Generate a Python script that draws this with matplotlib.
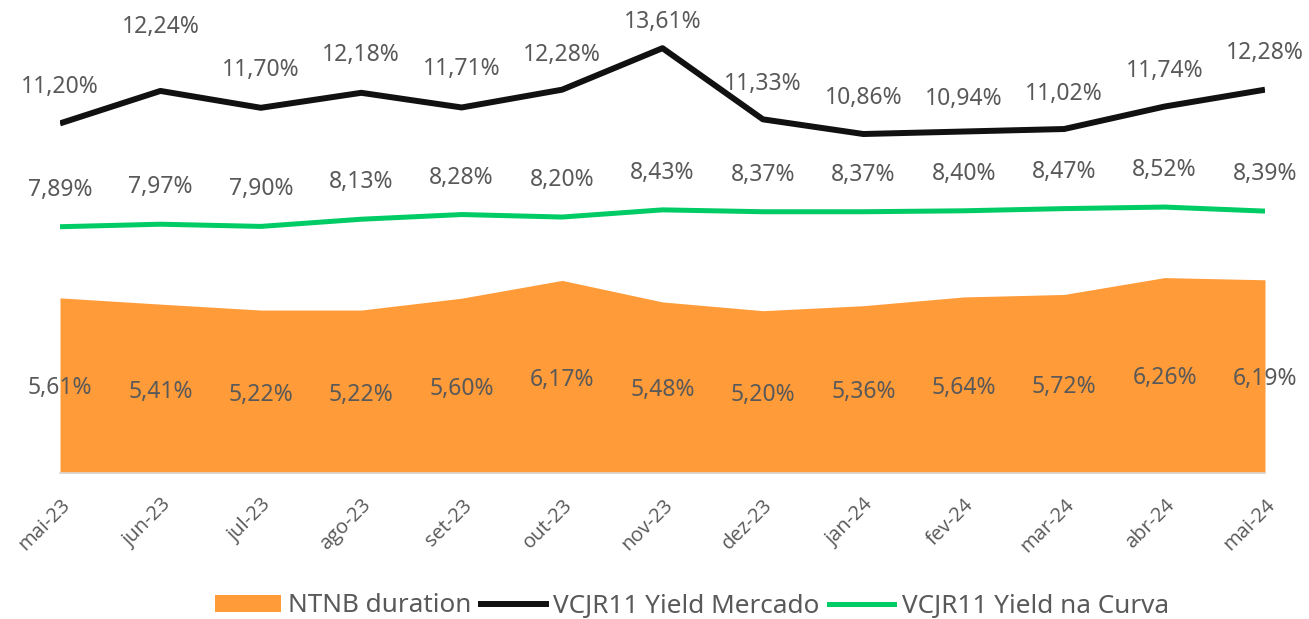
import matplotlib
matplotlib.use("Agg")
import matplotlib.pyplot as plt
from matplotlib.patches import Patch
from matplotlib.lines import Line2D

months = ["mai-23", "jun-23", "jul-23", "ago-23", "set-23", "out-23", "nov-23",
          "dez-23", "jan-24", "fev-24", "mar-24", "abr-24", "mai-24"]
ntnb_duration = [5.61, 5.41, 5.22, 5.22, 5.60, 6.17, 5.48, 5.20, 5.36, 5.64, 5.72, 6.26, 6.19]
yield_mercado = [11.20, 12.24, 11.70, 12.18, 11.71, 12.28, 13.61, 11.33, 10.86, 10.94, 11.02, 11.74, 12.28]
yield_curva = [7.89, 7.97, 7.90, 8.13, 8.28, 8.20, 8.43, 8.37, 8.37, 8.40, 8.47, 8.52, 8.39]

# label vertical offsets (pixels above the point) for the market-yield labels
mercado_label_offsets = [36, 64, 38, 38, 38, 35, 26, 35, 36, 33, 35, 36, 37]

ORANGE = "#FF9B38"
BLACK = "#111111"
GREEN = "#00CC66"
TXT = "#595959"
FONT = ["Noto Sans", "DejaVu Sans"]

W, H = 1309, 619
fig = plt.figure(figsize=(W / 100, H / 100), dpi=100)
ax = fig.add_axes([60 / W, (H - 473) / H, (1265 - 60) / W, 437 / H])
x = list(range(len(months)))

ax.fill_between(x, ntnb_duration, 0, color=ORANGE, linewidth=0, zorder=1)
ax.plot(x, yield_mercado, color=BLACK, linewidth=4.3, zorder=3, solid_capstyle="butt")
ax.plot(x, yield_curva, color=GREEN, linewidth=3.6, zorder=3, solid_capstyle="butt")

ax.set_xlim(0, 12)
ax.set_ylim(0, 14)
ax.set_yticks([])
for s in ["top", "right", "left"]:
    ax.spines[s].set_visible(False)
ax.spines["bottom"].set_color("#D9D9D9")
ax.spines["bottom"].set_linewidth(1.2)
ax.set_xticks(x)
ax.set_xticklabels(months, rotation=45, ha="right", va="top", rotation_mode="anchor",
                   fontsize=14.5, color=TXT, family=["Open Sans", "DejaVu Sans"])
ax.tick_params(axis="x", length=0, pad=16)

def fmt(v):
    return f"{v:.2f}".replace(".", ",") + "%"

LS = 16.5
for i, v in enumerate(yield_mercado):
    ax.annotate(fmt(v), (i, v), xytext=(0, mercado_label_offsets[i] * 0.72), textcoords="offset points",
                ha="center", va="center", fontsize=LS, color=TXT, family=FONT, annotation_clip=False)
for i, v in enumerate(yield_curva):
    ax.annotate(fmt(v), (i, v), xytext=(0, 37 * 0.72), textcoords="offset points",
                ha="center", va="center", fontsize=LS, color=TXT, family=FONT, annotation_clip=False)
for i, v in enumerate(ntnb_duration):
    ax.annotate(fmt(v), (i, v / 2), xytext=(0, -3 * 0.72), textcoords="offset points",
                ha="center", va="center", fontsize=LS, color=TXT, family=FONT, annotation_clip=False)

handles = [Patch(facecolor=ORANGE, edgecolor="none", label="NTNB duration"),
           Line2D([0], [0], color=BLACK, linewidth=4.3, label="VCJR11 Yield Mercado"),
           Line2D([0], [0], color=GREEN, linewidth=3.6, label="VCJR11 Yield na Curva")]
leg = fig.legend(handles=handles, loc="center", bbox_to_anchor=(692 / W, (H - 606) / H), ncol=3,
                 frameon=False, handlelength=2.5, handleheight=0.6, handletextpad=0.28,
                 columnspacing=0.36, prop={"family": FONT, "size": 18.8})
for t in leg.get_texts():
    t.set_color(TXT)

fig.savefig("out.png", dpi=100)
